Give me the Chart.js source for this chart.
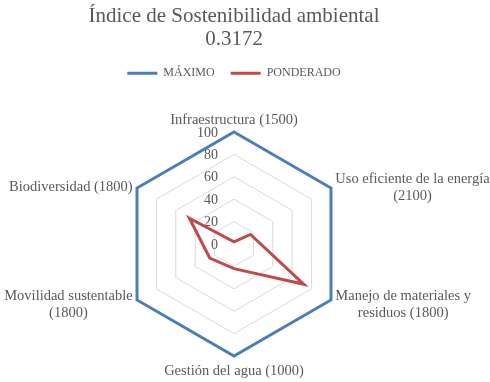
<!DOCTYPE html>
<html>
<head>
<meta charset="utf-8">
<script src="https://cdn.jsdelivr.net/npm/chart.js@4"></script>
<style>
  html, body { margin: 0; padding: 0; background: #fff; }
  #wrap { width: 490px; height: 382px; }
</style>
</head>
<body>
<div id="wrap"><canvas id="radar"></canvas></div>
<script>
// ===== DATA =====
const categories = [
  ["Infraestructura (1500)"],
  ["Uso eficiente de la energía", "(2100)"],
  ["Manejo de materiales y", "residuos (1800)"],
  ["Gestión del agua (1000)"],
  ["Movilidad sustentable", "(1800)"],
  ["Biodiversidad (1800)"]
];
const maximo     = [100, 100, 100, 100, 100, 100];
const ponderado  = [2, 17, 72, 22, 25, 46];
const tickValues = [0, 20, 40, 60, 80, 100];
const titleLines = ["Índice de Sostenibilidad ambiental", "0.3172"];

// ===== STYLE =====
const TEXT_GRAY  = "#595959";
const SERIF      = "'Liberation Serif', 'Times New Roman', serif";
const RADIUS     = 112;   // radar size in px
const LABEL_PAD  = 5;     // gap between polygon and category labels
const LABEL_LINE = 17;    // line height of category labels

// Category labels drawn around the polygon, centred like in Excel
const pointLabelPlugin = {
  id: "pointLabelPlugin",
  afterDraw(chart) {
    const scale = chart.scales.r;
    const ctx = chart.ctx;
    ctx.save();
    ctx.font = "14.5px " + SERIF;
    ctx.fillStyle = TEXT_GRAY;
    ctx.textAlign = "center";
    ctx.textBaseline = "middle";
    categories.forEach((lines, i) => {
      const pos = scale.getPointPosition(i, scale.drawingArea + LABEL_PAD);
      const angle = scale.getIndexAngle(i);
      const w = Math.max(...lines.map(l => ctx.measureText(l).width));
      const h = lines.length * LABEL_LINE;
      const s = Math.sin(angle), c = Math.cos(angle);
      let cx = pos.x, top;
      if (Math.abs(s) < 0.01) {
        top = c > 0 ? pos.y - h : pos.y;          // top / bottom label
      } else {
        cx = s > 0 ? pos.x + w / 2 : pos.x - w / 2; // right / left labels
        top = pos.y - h / 2;
      }
      lines.forEach((line, k) => {
        ctx.fillText(line, cx, top + 2 + LABEL_LINE * (k + 0.5));
      });
    });
    ctx.restore();
  }
};

// Tick numbers on the left of the vertical axis (including 0)
const tickLabelPlugin = {
  id: "tickLabelPlugin",
  beforeDatasetsDraw(chart) {
    const scale = chart.scales.r;
    const ctx = chart.ctx;
    ctx.save();
    ctx.font = "14px " + SERIF;
    ctx.fillStyle = TEXT_GRAY;
    ctx.textAlign = "right";
    ctx.textBaseline = "middle";
    tickValues.forEach(v => {
      const d = scale.getDistanceFromCenterForValue(v);
      ctx.fillText(String(v), scale.xCenter - 16, scale.yCenter - d + 1);
    });
    ctx.restore();
  }
};

const ctx = document.getElementById("radar").getContext("2d");

new Chart(ctx, {
  type: "radar",
  data: {
    labels: categories,
    datasets: [
      {
        label: "MÁXIMO",
        data: maximo,
        borderColor: "#4A7EBB",
        backgroundColor: "transparent",
        borderWidth: 3,
        pointRadius: 0,
        fill: false
      },
      {
        label: "PONDERADO",
        data: ponderado,
        borderColor: "#BE4B48",
        backgroundColor: "transparent",
        borderWidth: 3,
        pointRadius: 0,
        fill: false
      }
    ]
  },
  options: {
    responsive: true,
    maintainAspectRatio: false,
    animation: false,
    layout: {
      padding: { left: 0, right: 22, top: 0, bottom: 26 }
    },
    plugins: {
      title: {
        display: true,
        text: titleLines,
        color: TEXT_GRAY,
        font: { family: SERIF, size: 21, weight: "normal", lineHeight: 1.1 },
        padding: { top: 5, bottom: 0 }
      },
      legend: {
        position: "top",
        labels: {
          color: TEXT_GRAY,
          font: { family: SERIF, size: 12 },
          usePointStyle: true,
          pointStyle: "line",
          pointStyleWidth: 30,
          padding: 16
        }
      },
      tooltip: { enabled: false }
    },
    scales: {
      r: {
        min: 0,
        max: 100,
        ticks: { stepSize: 20, display: false },
        pointLabels: { display: false },
        angleLines: { display: false },
        grid: { color: "#D9D9D9", lineWidth: 1 },
        afterFit(scale) {
          // keep the polygon at a fixed size, sitting on the bottom of the area
          scale.drawingArea = RADIUS;
          scale.yCenter = scale.bottom - RADIUS;
        }
      }
    }
  },
  plugins: [tickLabelPlugin, pointLabelPlugin]
});
</script>
</body>
</html>
